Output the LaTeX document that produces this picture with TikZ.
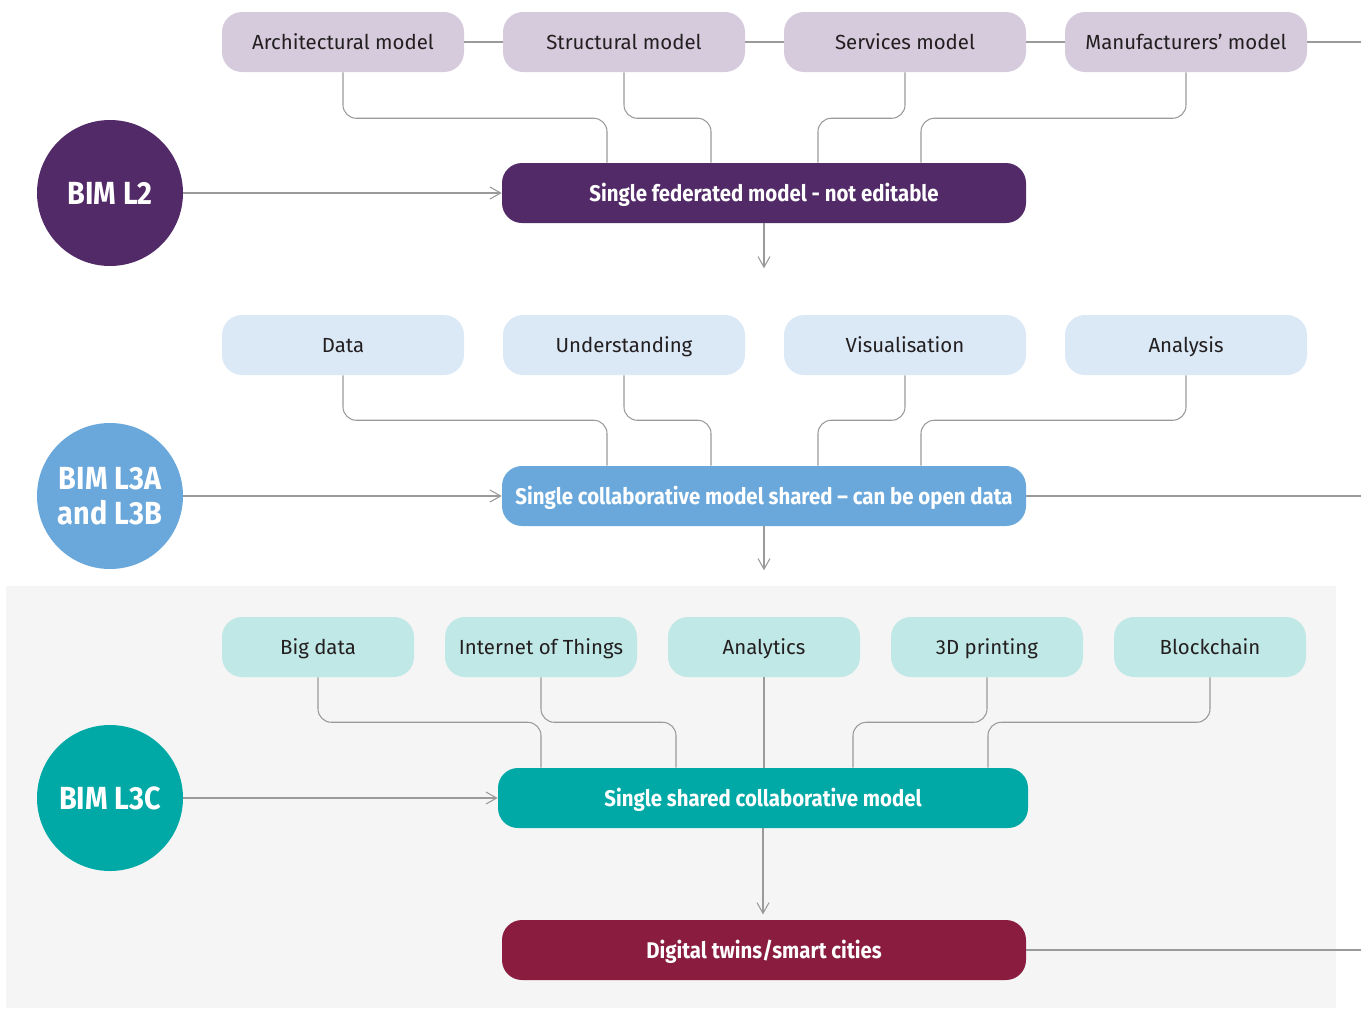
\documentclass[tikz,border=0pt]{standalone}
\usepackage{fontspec}
\setmainfont{Fira Sans}
\newfontfamily\headfont[FakeStretch=0.9]{Fira Sans}
\usetikzlibrary{calc,arrows.meta,positioning}
\definecolor{plumlight}{HTML}{D5CBDC}
\definecolor{plumdark}{HTML}{522A68}
\definecolor{skylight}{HTML}{DBE8F6}
\definecolor{skymid}{HTML}{6AA8DC}
\definecolor{teallight}{HTML}{C0E8E6}
\definecolor{tealdark}{HTML}{00A9A6}
\definecolor{wine}{HTML}{8A1C40}
\definecolor{linegray}{HTML}{9A9A9A}
\definecolor{panelgray}{HTML}{F5F5F5}
\definecolor{inkgray}{HTML}{231F20}

\begin{document}
\begin{tikzpicture}[x=0.75pt, y=-0.75pt,
		topic/.style={rounded corners=15pt, minimum width=181.5pt, minimum height=45pt, text height=13pt, text depth=2pt, text=inkgray, font=\fontsize{15.3}{18}\selectfont},
		smalltopic/.style={topic, minimum width=144pt},
		main/.style={rounded corners=15pt, minimum width=393pt, minimum height=45pt, text height=14pt, text depth=2pt, text=white, font=\headfont\bfseries\fontsize{17}{19}\selectfont},
		level/.style={circle, minimum size=109.5pt, inner sep=0pt, text=white, align=center, font=\headfont\bfseries\fontsize{24}{26}\selectfont},
		link/.style={draw=linegray, line width=0.8pt, rounded corners=10pt},
		push/.style={link, -{Straight Barb[length=8pt,width=9pt]}}]
		%%%%% START %%%%%
		
		\useasboundingbox (0,0) rectangle (1361,1008);
		\fill[panelgray] (6,586) rectangle (1336,1008);
		\coordinate (rim) at (1361,0);
		
		% level 2
		\node[topic, fill=plumlight] (arch) at (343,42) {Architectural model};
		\node[topic, fill=plumlight] (struct) at (624,42) {Structural model};
		\node[topic, fill=plumlight] (serv) at (905,42) {Services model};
		\node[topic, fill=plumlight] (manu) at (1186,42) {Manufacturers’ model};
		\node[main, fill=plumdark] (fed) at (764,193) {Single federated model - not editable};
		\node[level, fill=plumdark] (l2) at (110,193) {BIM L2};
		
		\draw[link] (arch.east) -- (struct.west);
		\draw[link] (struct.east) -- (serv.west);
		\draw[link] (serv.east) -- (manu.west);
		\draw[link] (manu.east) -- (manu.east -| rim);
		\foreach \src/\dx in {arch/-157, struct/-53, serv/54, manu/157}
			\draw[link] (\src.south) -- ++(0,46) -| ($(fed.north)+(\dx,0)$);
		\draw[push] (l2) -- (fed);
		\draw[push] (fed.south) -- ++(0,45);
		
		% level 3A and 3B
		\node[topic, fill=skylight] (data) at (343,345) {Data};
		\node[topic, fill=skylight] (under) at (624,345) {Understanding};
		\node[topic, fill=skylight] (visual) at (905,345) {Visualisation};
		\node[topic, fill=skylight] (anal) at (1186,345) {Analysis};
		\node[main, fill=skymid] (collab) at (764,496) {Single collaborative model shared – can be open data};
		\node[level, fill=skymid] (l3ab) at (110,496) {BIM L3A\\and L3B};
		
		\foreach \src/\dx in {data/-157, under/-53, visual/54, anal/157}
			\draw[link] (\src.south) -- ++(0,45) -| ($(collab.north)+(\dx,0)$);
		\draw[push] (l3ab) -- (collab);
		\draw[link] (collab.east) -- (collab.east -| rim);
		\draw[push] (collab.south) -- ++(0,44);
		
		% level 3C
		\node[smalltopic, fill=teallight] (big) at (318,647) {Big data};
		\node[smalltopic, fill=teallight] (iot) at (541,647) {Internet of Things};
		\node[smalltopic, fill=teallight] (analytics) at (764,647) {Analytics};
		\node[smalltopic, fill=teallight] (print) at (987,647) {3D printing};
		\node[smalltopic, fill=teallight] (chain) at (1210,647) {Blockchain};
		\node[main, fill=tealdark, minimum width=397.5pt] (shared) at (763,798) {Single shared collaborative model};
		\node[level, fill=tealdark] (l3c) at (110,798) {BIM L3C};
		\node[main, fill=wine] (twins) at (764,950) {Digital twins/smart cities};
		
		\foreach \src/\dx in {big/-222, iot/-87, print/90, chain/225}
			\draw[link] (\src.south) -- ++(0,45) -| ($(shared.north)+(\dx,0)$);
		\draw[link] (analytics) -- (analytics |- shared.north);
		\draw[push] (l3c) -- (shared);
		\draw[push, shorten >=4pt] (shared.south) -- (shared.south |- twins.north);
		\draw[link] (twins.east) -- (twins.east -| rim);
		
		%%%%% END %%%%%
	\end{tikzpicture}
\end{document}
